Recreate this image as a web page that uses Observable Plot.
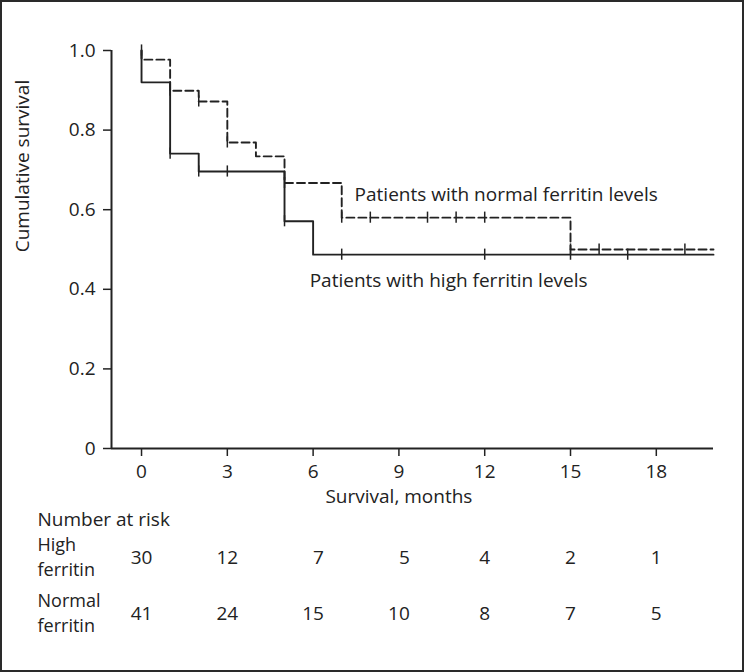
<!DOCTYPE html>
<html><head><meta charset="utf-8">
<script src="https://cdn.jsdelivr.net/npm/d3@7"></script>
<script src="https://cdn.jsdelivr.net/npm/@observablehq/plot@0.6"></script>
<style>
body{margin:0;background:#fff}
#chart svg{display:block;outline:2px solid #2a2a2a;outline-offset:-2px}
</style>
</head><body><div id="chart"></div>
<script>
// Kaplan–Meier step values
const highTimes = [0, 0, 1, 2, 5, 6, 20];
const highSurv  = [1, 0.92, 0.741, 0.696, 0.571, 0.487, 0.487];
const normalTimes = [0, 0, 1, 2, 3, 4, 5, 7, 15, 20];
const normalSurv  = [1, 0.977, 0.899, 0.872, 0.769, 0.734, 0.667, 0.58, 0.5, 0.5];

// censored observations
const highCensorTimes = [1, 2, 3, 5, 7, 12, 15, 17];
const highCensorSurv  = [0.741, 0.696, 0.696, 0.571, 0.487, 0.487, 0.487, 0.487];
const normalCensorTimes = [0, 1, 2, 3, 5, 7, 8, 10, 11, 12, 15, 16, 19];
const normalCensorSurv  = [1, 0.899, 0.872, 0.769, 0.667, 0.58, 0.58, 0.58, 0.58, 0.58, 0.5, 0.5, 0.5];

// axes
const xTicks = [0, 3, 6, 9, 12, 15, 18];
const yTicks = [0, 0.2, 0.4, 0.6, 0.8, 1.0];

// number at risk
const riskTimes = [0, 3, 6, 9, 12, 15, 18];
const highRisk = [30, 12, 7, 5, 4, 2, 1];
const normalRisk = [41, 24, 15, 10, 8, 7, 5];
const rowLabels = [["High", "ferritin"], ["Normal", "ferritin"]];

// curve labels
const labelText = ["Patients with normal ferritin levels", "Patients with high ferritin levels"];
const labelX = [7.45, 5.88];
const labelY = [0.638, 0.422];

const high = highTimes.map((t, i) => ({t, s: highSurv[i]}));
const normal = normalTimes.map((t, i) => ({t, s: normalSurv[i]}));
const highC = highCensorTimes.map((t, i) => ({t, s: highCensorSurv[i]}));
const normalC = normalCensorTimes.map((t, i) => ({t, s: normalCensorSurv[i]}));
const labels = labelText.map((text, i) => ({text, x: labelX[i], y: labelY[i]}));
// pad each at-risk entry with figure spaces so both rows align like a tabbed table
const pad = (a, b) => "\u2007".repeat(Math.max(0, String(b).length - String(a).length)) + a;
const risk = riskTimes.map((t, i) => ({t, high: pad(highRisk[i], normalRisk[i]), normal: String(normalRisk[i])}));

const ink = "#222";
const fs = 19;
const tick = 0.014;
const rowDy = [109, 165];

const rowMarks = rowLabels.flatMap((lines, r) => lines.map((line, k) =>
  Plot.text([line], {frameAnchor: "bottom-left", lineAnchor: "middle", dx: -74, dy: rowDy[r] + (k === 0 ? -12.5 : 12.5),
    textAnchor: "start", fontSize: 18, fill: ink})));

const chart = Plot.plot({
  width: 744,
  height: 672,
  marginLeft: 111,
  marginRight: 31,
  marginTop: 50,
  marginBottom: 224,
  x: {domain: [-1.05, 20]},
  y: {domain: [0, 1]},
  style: {fontFamily: "'Open Sans', sans-serif", fontSize: fs + "px", color: ink, background: "white"},
  marks: [
    Plot.ruleY([0], {stroke: ink, strokeWidth: 2}),
    Plot.ruleX([-1.05], {stroke: ink, strokeWidth: 2}),
    Plot.axisX(xTicks, {tickSize: 8, tickPadding: 8, label: null, fontSize: fs, stroke: ink, strokeWidth: 1.5}),
    Plot.axisY(yTicks, {tickSize: 8, tickPadding: 8, label: null, fontSize: fs, stroke: ink, strokeWidth: 1.5,
      tickFormat: d => d === 0 ? "0" : d.toFixed(1)}),
    Plot.line(high, {x: "t", y: "s", curve: "step-after", stroke: ink, strokeWidth: 1.9}),
    Plot.line(normal, {x: "t", y: "s", curve: "step-after", stroke: ink, strokeWidth: 1.9, strokeDasharray: "8,4"}),
    Plot.ruleX(highC, {x: "t", y1: d => d.s - tick, y2: d => d.s + tick, stroke: ink, strokeWidth: 1.5}),
    Plot.ruleX(normalC, {x: "t", y1: d => d.s - tick, y2: d => d.s + tick, stroke: ink, strokeWidth: 1.5}),
    Plot.text(labels, {x: "x", y: "y", text: "text", textAnchor: "start", fontSize: fs, fill: ink}),
    Plot.text(["Cumulative survival"], {y: 0.493, frameAnchor: "left", dx: -89, rotate: -90, fontSize: fs, fill: ink}),
    Plot.text(["Survival, months"], {x: 9, frameAnchor: "bottom", lineAnchor: "middle", dy: 48, fontSize: fs, fill: ink}),
    Plot.text(["Number at risk"], {frameAnchor: "bottom-left", lineAnchor: "middle", dx: -74, dy: 71, textAnchor: "start", fontSize: fs, fill: ink}),
    ...rowMarks,
    Plot.text(risk, {x: "t", text: "high", frameAnchor: "bottom", lineAnchor: "middle", dy: rowDy[0], fontSize: fs, fill: ink}),
    Plot.text(risk, {x: "t", text: "normal", frameAnchor: "bottom", lineAnchor: "middle", dy: rowDy[1], fontSize: fs, fill: ink})
  ]
});
document.getElementById("chart").appendChild(chart);
</script></body></html>
